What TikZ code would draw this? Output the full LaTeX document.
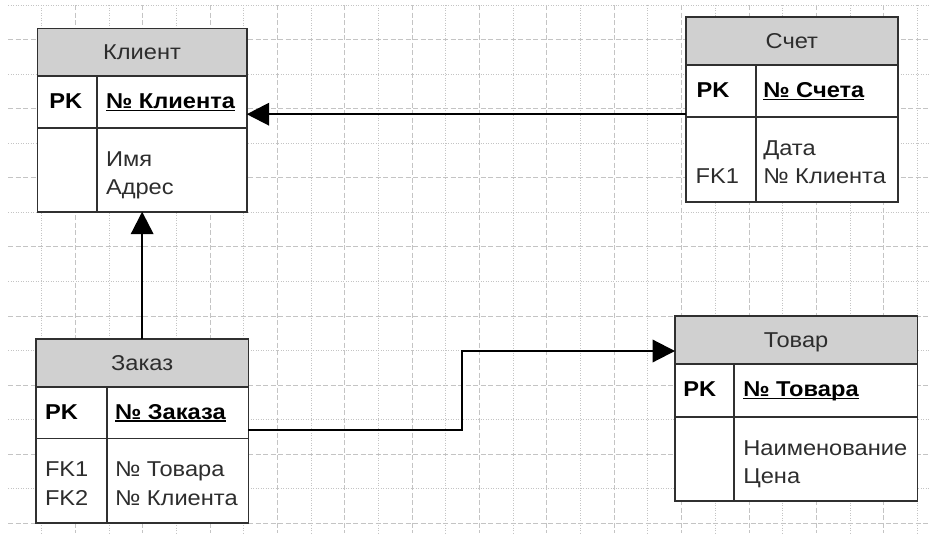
\documentclass[tikz,border=0pt]{standalone}
\usepackage{fontspec}
\setmainfont{Liberation Sans}[FakeStretch=1.1]
\usetikzlibrary{arrows.meta}

\definecolor{gridc}{RGB}{196,196,196}
\definecolor{boxline}{RGB}{48,48,48}
\definecolor{hdrfill}{RGB}{208,208,208}
\definecolor{txtc}{RGB}{45,45,45}

\begin{document}
\begin{tikzpicture}[x=1pt, y=-1pt,
  every node/.style={inner sep=0pt, outer sep=0pt},
  boxpart/.style={draw=boxline, line width=1.6pt, fill=white, rectangle, anchor=north west},
  hdr/.style={boxpart, fill=hdrfill, text=txtc, text height=15.3pt, text depth=0pt,
    font=\fontsize{21.5}{26}\selectfont},
  cell/.style={anchor=base west, text=txtc, font=\fontsize{21.5}{26}\selectfont},
  keycell/.style={anchor=base west, text=black, font=\fontsize{21.5}{26}\selectfont\bfseries},
  uline/.style={line width=1.6pt, black},
  divider/.style={draw=boxline, line width=1.6pt},
  conn/.style={line width=2.2pt, black, -{Triangle[length=22.5pt, width=22.5pt]}},
  majorgrid/.style={gridc, line width=0.9pt, dash pattern=on 5pt off 2.5pt},
  minorgrid/.style={gridc, line width=0.9pt, dash pattern=on 1pt off 1.5pt}]

\useasboundingbox (0,0) rectangle (929,533);
\fill[white] (0,0) rectangle (929,533);

% background grid: dashed and dotted lines alternate
\begin{scope}
  \clip (8,3) rectangle (929,533);
  \foreach \j in {0,...,15} {
    \pgfmathsetmacro\yy{5+34.55*\j}
    \ifodd\j
      \draw[majorgrid] (8,\yy) -- (929,\yy);
    \else
      \draw[minorgrid] (8,\yy) -- (929,\yy);
    \fi
  }
  \foreach \k in {0,...,26} {
    \pgfmathsetmacro\xx{41.7+33.68*\k}
    \ifodd\k
      \draw[majorgrid] (\xx,5) -- (\xx,533);
    \else
      \draw[minorgrid] (\xx,5) -- (\xx,533);
    \fi
  }
\end{scope}

% ---- Клиент ----
\node[hdr, minimum width=209.4pt, minimum height=47.7pt] (kl-h) at (37.3,28.3) {Клиент};
\node[boxpart, minimum width=209.4pt, minimum height=51.7pt] (kl-k) at (kl-h.south west) {};
\node[boxpart, minimum width=209.4pt, minimum height=84pt] (kl-a) at (kl-k.south west) {};
\draw[divider] ([xshift=59.4pt]kl-k.north west) -- ([xshift=59.4pt]kl-a.south west);
\node[keycell] (kl-pk) at (49.3,108.5) {PK};
\node[keycell] (kl-id) at (106,108.5) {№ Клиента};
\draw[uline] ([yshift=-2pt]kl-id.base west) -- ([yshift=-2pt]kl-id.base east);
\node[cell] (kl-a1) at (106,166.2) {Имя};
\node[cell] (kl-a2) at (106,194.7) {Адрес};

% ---- Счет ----
\node[hdr, minimum width=211.7pt, minimum height=48.3pt] (sc-h) at (686,16.7) {Счет};
\node[boxpart, minimum width=211.7pt, minimum height=51.7pt] (sc-k) at (sc-h.south west) {};
\node[boxpart, minimum width=211.7pt, minimum height=85pt] (sc-a) at (sc-k.south west) {};
\draw[divider] ([xshift=69.7pt]sc-k.north west) -- ([xshift=69.7pt]sc-a.south west);
\node[keycell] (sc-pk) at (696.7,97.5) {PK};
\node[keycell] (sc-id) at (763.3,97.5) {№ Счета};
\draw[uline] ([yshift=-2pt]sc-id.base west) -- ([yshift=-2pt]sc-id.base east);
\node[cell] (sc-a1) at (763.3,155.2) {Дата};
\node[cell] (sc-a2) at (763.3,183.7) {№ Клиента};
\node[cell] (sc-f1) at (695.7,183.7) {FK1};

% ---- Заказ ----
\node[hdr, minimum width=212.3pt, minimum height=47.7pt] (zk-h) at (36,339) {Заказ};
\node[boxpart, minimum width=212.3pt, minimum height=51.6pt] (zk-k) at (zk-h.south west) {};
\node[boxpart, minimum width=212.3pt, minimum height=84.4pt] (zk-a) at (zk-k.south west) {};
\draw[divider] ([xshift=70.7pt]zk-k.north west) -- ([xshift=70.7pt]zk-a.south west);
\node[keycell] (zk-pk) at (45,419.2) {PK};
\node[keycell] (zk-id) at (115,419.2) {№ Заказа};
\draw[uline] ([yshift=-2pt]zk-id.base west) -- ([yshift=-2pt]zk-id.base east);
\node[cell] (zk-a1) at (115,476.8) {№ Товара};
\node[cell] (zk-a2) at (115,505.3) {№ Клиента};
\node[cell] (zk-f1) at (45,476.8) {FK1};
\node[cell] (zk-f2) at (45,505.3) {FK2};

% ---- Товар ----
\node[hdr, minimum width=242.3pt, minimum height=48pt] (tv-h) at (675,316) {Товар};
\node[boxpart, minimum width=242.3pt, minimum height=52.7pt] (tv-k) at (tv-h.south west) {};
\node[boxpart, minimum width=242.3pt, minimum height=84.3pt] (tv-a) at (tv-k.south west) {};
\draw[divider] ([xshift=59pt]tv-k.north west) -- ([xshift=59pt]tv-a.south west);
\node[keycell] (tv-pk) at (683.3,396.5) {PK};
\node[keycell] (tv-id) at (743.3,396.5) {№ Товара};
\draw[uline] ([yshift=-2pt]tv-id.base west) -- ([yshift=-2pt]tv-id.base east);
\node[cell] (tv-a1) at (743.3,455.2) {Наименование};
\node[cell] (tv-a2) at (743.3,483.7) {Цена};

% ---- relationships ----
\coordinate (c1) at ([yshift=2.5pt]sc-k.south west);
\draw[conn] (c1) -- (c1 -| kl-k.east);
\draw[conn] (zk-h.north) -- (zk-h.north |- kl-a.south);
\coordinate (c2) at ([yshift=8.3pt]zk-k.south east);
\coordinate (bend) at (462.3,351);
\draw[conn] (c2) -| (bend) -- (bend -| tv-h.west);

\end{tikzpicture}
\end{document}
